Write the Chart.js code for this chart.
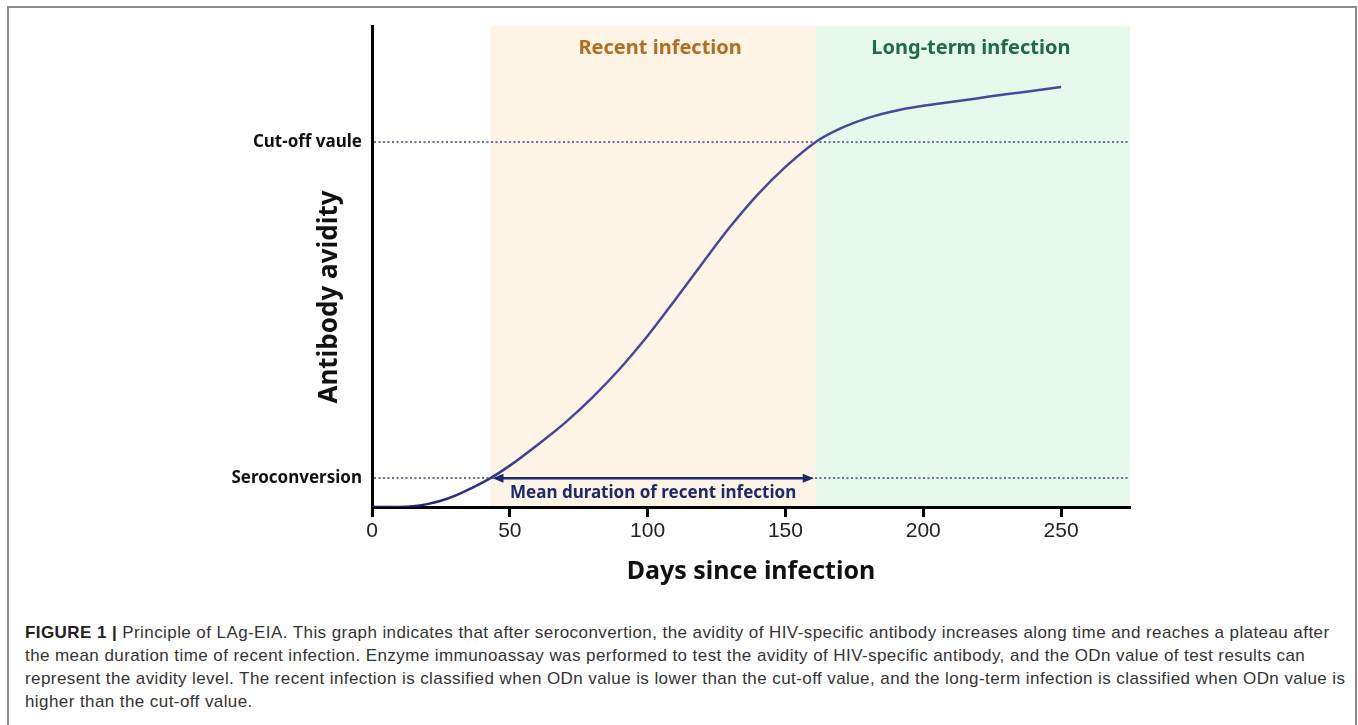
<!DOCTYPE html>
<html>
<head>
<meta charset="utf-8">
<script src="https://cdn.jsdelivr.net/npm/chart.js@4.4.0/dist/chart.umd.min.js"></script>
<style>
  html, body { margin: 0; padding: 0; background: #fff; }
  body { width: 1358px; height: 725px; position: relative; overflow: hidden; }
  .frame { position: absolute; left: 7px; top: 6px; width: 1346px; height: 740px; border: 2px solid #8a8a8a; border-bottom: none; }
  .chart-box { position: absolute; left: 0; top: 0; width: 1358px; height: 600px; }
  .caption { position: absolute; left: 25px; top: 621px; font-family: 'Liberation Sans', Arial, sans-serif; font-size: 17px; letter-spacing: 0.42px; line-height: 23px; color: #333; white-space: nowrap; }
  .caption b { color: #222; }
</style>
</head>
<body>
<div class="frame"></div>
<div class="chart-box"><canvas id="avidityChart"></canvas></div>
<div class="caption">
  <b>FIGURE 1 |</b> Principle of LAg-EIA. This graph indicates that after seroconvertion, the avidity of HIV-specific antibody increases along time and reaches a plateau after<br>
  the mean duration time of recent infection. Enzyme immunoassay was performed to test the avidity of HIV-specific antibody, and the ODn value of test results can<br>
  represent the avidity level. The recent infection is classified when ODn value is lower than the cut-off value, and the long-term infection is classified when ODn value is<br>
  higher than the cut-off value.
</div>
<script>
// values (x = days, y = relative avidity 0-100)
const days = [0, 10, 15, 20, 25, 30, 35, 43, 50, 60, 70, 80, 90, 100, 110, 120, 130, 140, 150, 161, 170, 180, 190, 200, 210, 220, 230, 240, 250];
const avidity = [0, 0, 0.15, 0.6, 1.3, 2.3, 3.6, 6.0, 8.6, 12.9, 17.5, 22.8, 28.8, 35.6, 43.1, 50.8, 58.3, 65.0, 70.7, 75.9, 78.7, 80.9, 82.4, 83.4, 84.2, 85.0, 85.8, 86.55, 87.3];
const xTicks = [0, 50, 100, 150, 200, 250];

const levelNames = ['Seroconversion', 'Cut-off vaule'];
const levelValues = [6.0, 75.9];

const phaseNames = ['Recent infection', 'Long-term infection'];
const phaseStart = [43, 161];
const phaseEnd = [161, 275];
const phaseFill = ['#fdf4e6', '#e7f8ed'];
const phaseText = ['#b46c20', '#1f6b45'];

const durationLabel = 'Mean duration of recent infection';

Chart.defaults.font.family = "'Noto Sans', 'Open Sans', sans-serif";

// shaded phases + their titles, drawn under grid and line
const phaseBands = {
    id: 'phaseBands',
    beforeDraw(chart) {
        const { ctx, chartArea, scales: { x } } = chart;
        ctx.save();
        phaseNames.forEach((name, i) => {
            const x0 = x.getPixelForValue(phaseStart[i]);
            const x1 = x.getPixelForValue(phaseEnd[i]);
            ctx.fillStyle = phaseFill[i];
            ctx.fillRect(x0, chartArea.top, x1 - x0, chartArea.bottom - chartArea.top);
            ctx.fillStyle = phaseText[i];
            ctx.font = "bold 20px 'Noto Sans'";
            ctx.textAlign = 'center';
            ctx.textBaseline = 'middle';
            ctx.fillText(name, (x0 + x1) / 2 + (i === 0 ? 7 : -2), chartArea.top + 22);
        });
        ctx.restore();
    }
};

// duration arrow and rotated y title
const extras = {
    id: 'extras',
    afterDatasetsDraw(chart) {
        const { ctx, scales: { x, y } } = chart;
        const yy = y.getPixelForValue(levelValues[0]);
        const xa = x.getPixelForValue(phaseStart[0]) + 2;
        const xb = x.getPixelForValue(phaseEnd[0]) - 2;
        ctx.save();
        ctx.strokeStyle = '#1b2a6e';
        ctx.fillStyle = '#1b2a6e';
        ctx.lineWidth = 2.5;
        ctx.beginPath();
        ctx.moveTo(xa + 8, yy);
        ctx.lineTo(xb - 8, yy);
        ctx.stroke();
        [[xa, 1], [xb, -1]].forEach(([px, dir]) => {
            ctx.beginPath();
            ctx.moveTo(px, yy);
            ctx.lineTo(px + dir * 11, yy - 4.5);
            ctx.lineTo(px + dir * 11, yy + 4.5);
            ctx.closePath();
            ctx.fill();
        });
        ctx.font = "bold 17px 'Noto Sans'";
        ctx.textAlign = 'center';
        ctx.textBaseline = 'middle';
        ctx.fillText(durationLabel, (xa + xb) / 2, yy + 15);

        ctx.fillStyle = '#111';
        ctx.font = "bold 26px 'Noto Sans'";
        ctx.translate(330, 297);
        ctx.rotate(-Math.PI / 2);
        ctx.fillText('Antibody avidity', 0, 0);
        ctx.restore();
    }
};

const ctxAvidity = document.getElementById('avidityChart').getContext('2d');
new Chart(ctxAvidity, {
    type: 'line',
    data: {
        datasets: [{
            data: days.map((d, i) => ({ x: d, y: avidity[i] })),
            borderColor: (c) => {
                const area = c.chart.chartArea;
                if (!area) return '#45459a';
                const xs = c.chart.scales.x;
                const g = c.chart.ctx.createLinearGradient(xs.getPixelForValue(0), 0, xs.getPixelForValue(70), 0);
                g.addColorStop(0, '#15157a');
                g.addColorStop(1, '#47479d');
                return g;
            },
            borderWidth: 2.5,
            cubicInterpolationMode: 'monotone',
            pointRadius: 0,
            fill: false
        }]
    },
    options: {
        responsive: true,
        maintainAspectRatio: false,
        animation: false,
        layout: { padding: { left: 10, right: 228, top: 26, bottom: 13 } },
        plugins: { legend: { display: false }, tooltip: { enabled: false } },
        scales: {
            x: {
                type: 'linear',
                min: 0,
                max: 275,
                afterFit: (s) => { s.height = 80; },
                afterBuildTicks: (s) => { s.ticks = xTicks.map(v => ({ value: v })); },
                ticks: { font: { family: "'Liberation Sans', Arial", size: 21 }, color: '#222', padding: 2 },
                grid: { drawOnChartArea: false, drawTicks: true, tickLength: 10, tickWidth: 3, tickColor: '#000' },
                border: { color: '#000', width: 3 },
                title: { display: true, text: 'Days since infection', color: '#111', font: { size: 25, weight: 'bold' }, padding: { top: 0, bottom: 0 } }
            },
            y: {
                min: 0,
                max: 100,
                afterFit: (s) => { s.width = 362; },
                afterBuildTicks: (s) => { s.ticks = levelValues.map(v => ({ value: v })); },
                ticks: { callback: (v, i) => levelNames[i], color: '#111', font: { size: 17, weight: 'bold' }, padding: 10 },
                grid: { drawTicks: false, color: '#6d6d9c', lineWidth: 2 },
                border: { color: '#000', width: 3, dash: [2, 2.5] }
            }
        }
    },
    plugins: [phaseBands, extras]
});
</script>
</body>
</html>
